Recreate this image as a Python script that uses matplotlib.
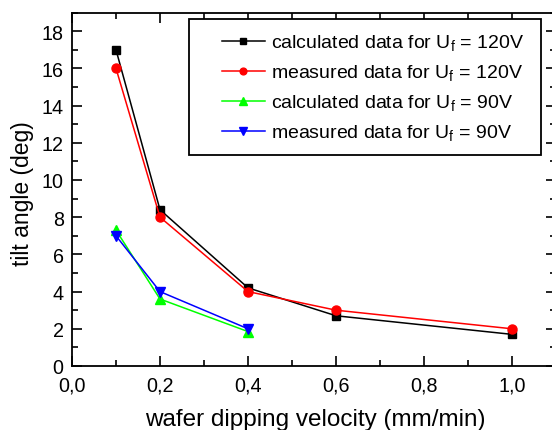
import matplotlib
matplotlib.use('agg')
import matplotlib.pyplot as plt
from matplotlib.patches import Rectangle
from matplotlib.ticker import MultipleLocator, FuncFormatter

plt.rcParams['font.family'] = ['Liberation Sans', 'DejaVu Sans']

# data
v_120 = [0.1, 0.2, 0.4, 0.6, 1.0]
calc_120 = [17.0, 8.4, 4.2, 2.7, 1.7]
meas_120 = [16.0, 8.0, 4.0, 3.0, 2.0]
v_90 = [0.1, 0.2, 0.4]
calc_90 = [7.3, 3.6, 1.85]
meas_90 = [7.0, 4.0, 2.0]

fig = plt.figure(figsize=(5.52, 4.31), dpi=100)
ax = fig.add_axes([0.1304, 0.1485, 0.877, 0.820])

ax.plot(v_120, calc_120, '-s', color='black', lw=1.1, ms=6,
        label='calculated data for U$_\\mathregular{f}$ = 120V')
ax.plot(v_120, meas_120, '-o', color='red', lw=1.1, ms=6.5,
        label='measured data for U$_\\mathregular{f}$ = 120V')
ax.plot(v_90, calc_90, '-^', color='#00ff00', lw=1.1, ms=7,
        label='calculated data for U$_\\mathregular{f}$ = 90V')
ax.plot(v_90, meas_90, '-v', color='blue', lw=1.1, ms=7,
        label='measured data for U$_\\mathregular{f}$ = 90V')

ax.set_xlim(0, 1.1)
ax.set_ylim(0, 19)
ax.xaxis.set_major_locator(MultipleLocator(0.2))
ax.xaxis.set_minor_locator(MultipleLocator(0.1))
ax.yaxis.set_major_locator(MultipleLocator(2))
ax.yaxis.set_minor_locator(MultipleLocator(1))
ax.xaxis.set_major_formatter(FuncFormatter(lambda x, p: ('%.1f' % x).replace('.', ',')))
ax.yaxis.set_major_formatter(FuncFormatter(lambda y, p: '%d' % y))

ax.tick_params(which='both', direction='in', top=True, right=True,
               labelsize=14.2, colors='black', width=1.2)
ax.tick_params(which='major', length=7)
ax.tick_params(axis='x', which='major', pad=7)
ax.tick_params(axis='y', which='major', pad=6)
ax.tick_params(which='minor', length=4)
for s in ax.spines.values():
    s.set_linewidth(1.3)

ax.set_xlabel('wafer dipping velocity (mm/min)', fontsize=17.5)
ax.xaxis.set_label_coords(0.502, -0.12)
ax.set_ylabel('tilt angle (deg)', fontsize=16.5)
ax.yaxis.set_label_coords(-0.079, 0.49)

# legend frame drawn separately (wide left margin in the reference)
ax.add_patch(Rectangle((0.2417, 0.597), 0.727, 0.3846, transform=ax.transAxes,
                       facecolor='white', edgecolor='black', lw=1.3, zorder=5))
leg = ax.legend(loc='upper left', bbox_to_anchor=(0.31, 0.944), numpoints=1,
                fontsize=14, frameon=False, borderaxespad=0, borderpad=0,
                handlelength=2.2, handletextpad=0.3, labelspacing=0.5,
                markerscale=0.75)
leg.set_zorder(6)

fig.savefig('out.png', dpi=100)
